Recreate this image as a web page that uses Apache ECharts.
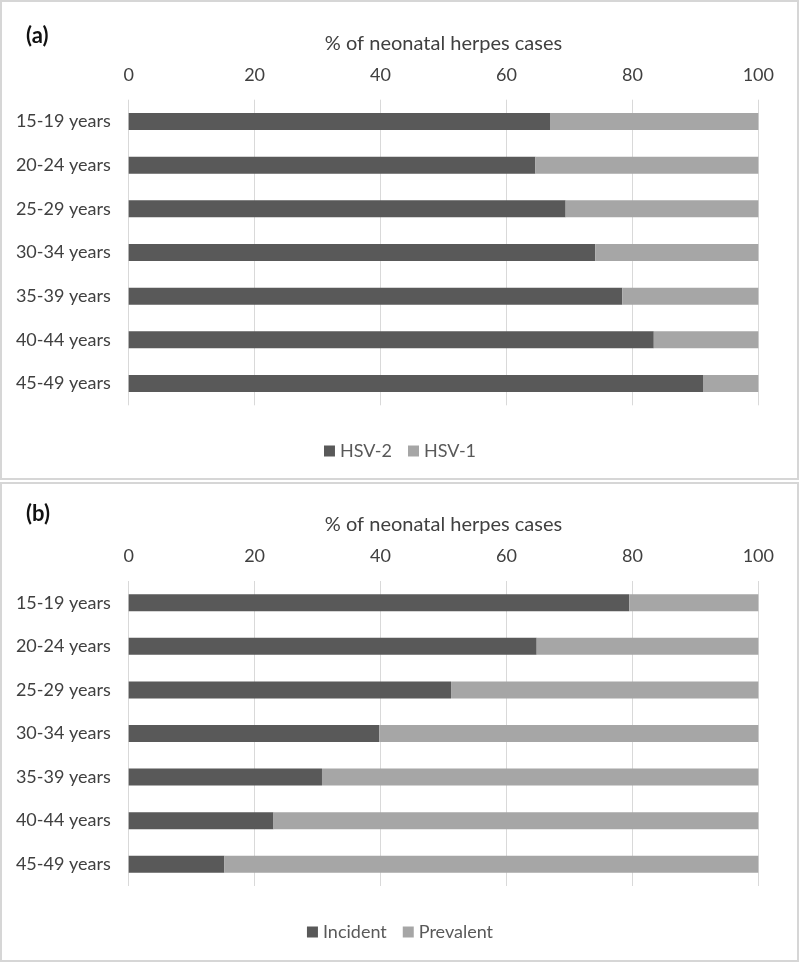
<!DOCTYPE html>
<html>
<head>
<meta charset="utf-8">
<script src="https://cdn.jsdelivr.net/npm/echarts@6/dist/echarts.min.js"></script>
<style>
  html, body { margin: 0; padding: 0; background: #ffffff; }
  #chart { width: 800px; height: 963px; }
</style>
</head>
<body>
<div id="chart"></div>
<script>
// age groups (top to bottom)
const ageGroups = ['15-19 years', '20-24 years', '25-29 years', '30-34 years', '35-39 years', '40-44 years', '45-49 years']
const xTicks = [0, 20, 40, 60, 80, 100]

// panel (a): HSV type
const hsv2 = [67.0, 64.6, 69.4, 74.1, 78.4, 83.4, 91.3]
const hsv1 = [33.0, 35.4, 30.6, 25.9, 21.6, 16.6, 8.7]

// panel (b): infection status
const incident = [79.5, 64.8, 51.2, 39.8, 30.7, 23.0, 15.2]
const prevalent = [20.5, 35.2, 48.8, 60.2, 69.3, 77.0, 84.8]

const font = 'Lato, "Open Sans", sans-serif'
const dark = '#595959'
const light = '#a6a6a6'

function xAxisFor(gridIndex) {
  return {
    gridIndex: gridIndex,
    type: 'value',
    position: 'top',
    min: xTicks[0],
    max: xTicks[xTicks.length - 1],
    interval: xTicks[1] - xTicks[0],
    name: '% of neonatal herpes cases',
    nameLocation: 'middle',
    nameGap: 46,
    nameTextStyle: { fontFamily: font, fontSize: 20, color: '#404040' },
    axisLine: { show: false },
    axisTick: { show: false },
    axisLabel: { fontFamily: font, fontSize: 18, color: '#404040', margin: 16 },
    splitLine: { show: true, lineStyle: { color: '#d9d9d9', width: 1 } }
  }
}

function yAxisFor(gridIndex) {
  return {
    gridIndex: gridIndex,
    type: 'category',
    inverse: true,
    data: ageGroups,
    axisLine: { show: false },
    axisTick: { show: false },
    axisLabel: { fontFamily: font, fontSize: 18, color: '#404040', margin: 18 }
  }
}

function barSeries(name, data, color, idx, stack) {
  return {
    name: name,
    type: 'bar',
    stack: stack,
    xAxisIndex: idx,
    yAxisIndex: idx,
    barWidth: 17,
    itemStyle: { color: color },
    emphasis: { disabled: true },
    data: data
  }
}

const chart = echarts.init(document.getElementById('chart'))
chart.setOption({
  animation: false,
  backgroundColor: '#ffffff',
  graphic: [
    { type: 'rect', shape: { x: 1, y: 1, width: 797, height: 478 }, style: { fill: 'none', stroke: '#d6d6d6', lineWidth: 2 } },
    { type: 'rect', shape: { x: 1, y: 483, width: 797, height: 478 }, style: { fill: 'none', stroke: '#d6d6d6', lineWidth: 2 } }
  ],
  title: [
    { text: '(a)', left: 21, top: 20, textStyle: { fontFamily: font, fontSize: 22, fontWeight: 'bold', color: '#111111' } },
    { text: '(b)', left: 21, top: 498, textStyle: { fontFamily: font, fontSize: 22, fontWeight: 'bold', color: '#111111' } }
  ],
  legend: [
    {
      data: ['HSV-2', 'HSV-1'], top: 437, left: 'center',
      itemWidth: 11, itemHeight: 11, itemGap: 16, icon: 'rect',
      textStyle: { fontFamily: font, fontSize: 18, color: dark }
    },
    {
      data: ['Incident', 'Prevalent'], top: 918, left: 'center',
      itemWidth: 11, itemHeight: 11, itemGap: 16, icon: 'rect',
      textStyle: { fontFamily: font, fontSize: 18, color: dark }
    }
  ],
  grid: [
    { left: 128.7, right: 41.7, top: 99.7, height: 305.6 },
    { left: 128.7, right: 41.7, top: 581, height: 305 }
  ],
  xAxis: [xAxisFor(0), xAxisFor(1)],
  yAxis: [yAxisFor(0), yAxisFor(1)],
  series: [
    barSeries('HSV-2', hsv2, dark, 0, 'a'),
    barSeries('HSV-1', hsv1, light, 0, 'a'),
    barSeries('Incident', incident, dark, 1, 'b'),
    barSeries('Prevalent', prevalent, light, 1, 'b')
  ]
})
</script>
</body>
</html>
